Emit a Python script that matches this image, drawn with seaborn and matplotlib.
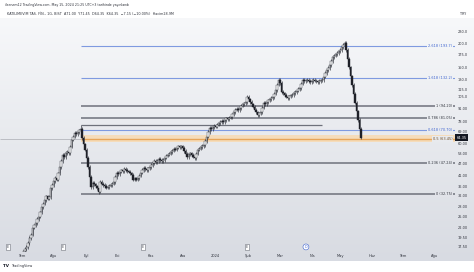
import numpy as np
import pandas as pd
import matplotlib
matplotlib.use("Agg")
import matplotlib.pyplot as plt
import matplotlib.transforms as mtransforms
import seaborn as sns

# ---------------- data ----------------
closes = [
    16.0, 16.4, 16.9, 17.3, 18.2, 19.3, 20.1, 21.8, 22.5, 23.1, 24.2,
    24.9, 26.3, 28.0, 29.1, 30.5, 31.8, 30.9, 31.6,
    35.2, 36.4, 38.1, 39.7, 38.8, 41.9,
    45.3, 48.6, 52.3, 51.0, 53.5, 54.2, 53.4, 57.8,
    62.7, 65.1, 68.2, 66.9, 68.5, 70.3, 71.5,
    64.2, 59.5, 55.6, 50.5, 45.3, 40.2, 35.6,
    37.4, 36.8, 35.9, 35.2, 33.6,
    37.8, 37.1, 36.5, 36.0, 35.3, 35.6, 36.2, 36.5, 37.1, 37.8, 40.1,
    42.2, 41.6, 42.7, 43.5, 42.9, 44.1, 43.7, 43.0, 42.7, 41.9, 41.2,
    38.8, 39.4, 38.9, 39.7, 40.8, 42.2, 43.6, 44.8, 44.1, 43.7, 44.6,
    45.3, 46.4, 47.5, 48.9, 48.1, 48.6, 49.8, 49.3, 48.7, 49.3, 50.6, 51.8, 52.4, 53.1,
    54.2, 55.0, 56.3, 55.8, 57.0, 57.9, 57.2, 58.1, 57.0, 54.8, 52.9,
    51.1, 52.6, 53.4, 52.3, 51.2, 50.5, 53.0, 55.6, 56.4, 57.5, 58.2,
    59.0, 61.8, 65.0, 68.9, 72.4, 71.3, 72.8, 74.1, 73.3, 75.2, 76.4,
    77.8, 78.5, 77.6, 79.7, 81.0, 80.2, 81.9, 82.6, 85.1, 87.4,
    89.9, 90.8, 89.7, 92.0, 94.6, 96.1, 97.3, 98.9, 105.0,
    101.8, 98.9, 96.0, 93.2, 90.1, 87.3, 84.6, 86.2, 87.7, 92.4,
    97.7, 96.5, 98.9, 100.6, 102.1, 103.4, 105.0, 109.3, 114.2, 121.5,
    128.8, 124.2, 111.5, 109.4, 107.6, 105.2, 103.8, 105.9, 106.8, 107.6,
    109.9, 111.5, 113.2, 115.6, 117.0, 123.1, 128.8, 126.4, 127.9, 128.8,
    127.2, 125.7, 127.0, 128.8, 127.5, 126.3, 125.7, 127.1, 128.2, 128.8,
    133.9, 140.1, 144.8, 148.8, 154.2, 161.5, 169.7, 172.4, 175.3, 178.0,
    181.2, 184.6, 190.3, 196.0, 200.5,
    184.56, 166.1, 149.49, 134.54, 121.09, 108.98, 98.08, 88.27, 79.45, 71.5, 64.35,
]
first_open = 15.8
special_highs = {39: 75.0, 150: 107.5, 171: 131.5, 215: 205.0}
special_lows = {51: 32.75}

fib_ratios = ["0", "0.236", "0.5", "0.618", "0.786", "1", "1.618", "2.618"]
fib_prices = [32.75, 47.24, 63.45, 70.70, 81.05, 94.20, 132.2, 193.7]
fib_kind = ["gray", "gray", "orange", "blue", "gray", "gray", "blue", "blue"]
fib_start_bar = 39
band_low, band_high = 61.2, 66.6
ray_price, ray_end_bar = 75.0, 200

price_ticks = [17.5, 19.5, 22, 25, 28, 32, 36, 41, 47, 53, 60, 69, 78, 91,
               105, 115, 130, 150, 175, 200, 230]
month_labels = ["Tem", "Ağu", "Eyl", "Eki", "Kas", "Ara", "2024", "Şub",
                "Mar", "Nis", "May", "Haz", "Tem", "Ağu"]
month_bars = [0, 20.7, 42.7, 63.3, 86, 107.3, 128.7, 150.7, 172, 193.3,
              212, 233.3, 254, 275.3]
event_bars = [-9.3, 27.3, 80.7, 150.0]
dividend_bar = 189.3

last_price = 64.35
header1 = "ilsenem12 TradingView.com, May 15, 2024 21:25 UTC+3 tarihinde yayınlandı"
header2 = ("KATILIMEVIM TAS. FİN., 1G, BIST  A71.00  Y71.45  D64.35  K64.35  "
           "−7.15 (−10.00%)  Hacim28.9M")

# ---------------- derived OHLC table ----------------
opens = [first_open] + closes[:-1]
df = pd.DataFrame({"open": opens, "close": closes})
df["bar"] = np.arange(len(df))
df["high"] = df[["open", "close"]].max(axis=1) * 1.02
df["low"] = df[["open", "close"]].min(axis=1) * 0.98
for k, v in special_highs.items():
    df.loc[k, "high"] = v
for k, v in special_lows.items():
    df.loc[k, "low"] = v

# ---------------- figure ----------------
sns.set_theme(style="white")
plt.rcParams["font.family"] = ["DejaVu Sans"]

W, H = 474, 272
fig = plt.figure(figsize=(W / 100, H / 100), dpi=100)
fig.patch.set_facecolor("white")

top_c = np.array([247, 248, 250]) / 255
bot_c = np.array([216, 219, 226]) / 255
bg_top, bg_bot = 18, 261


def grad(ypix):
    t = (ypix - bg_top) / (bg_bot - bg_top)
    t = min(max(t, 0), 1)
    return tuple(top_c * (1 - t) + bot_c * t)


bg = fig.add_axes([0, 1 - bg_bot / H, 1, (bg_bot - bg_top) / H])
g = np.linspace(0, 1, 256)[:, None, None]
img = top_c[None, None, :] * (1 - g) + bot_c[None, None, :] * g
bg.imshow(img, aspect="auto", extent=[0, 1, 0, 1], origin="upper")
bg.set_axis_off()
bg.set_zorder(0)

ax_top, ax_bot, ax_right = 22, 252, 455
ax = fig.add_axes([0, 1 - ax_bot / H, ax_right / W, (ax_bot - ax_top) / H])
ax.set_zorder(1)
ax.patch.set_alpha(0)
ax.set_yscale("log")
ax.set_ylim(16.3, 258)
px_per_bar = 1.5
x_left = -22 / px_per_bar
x_right = x_left + ax_right / px_per_bar
ax.set_xlim(x_left, x_right)

# orange band + fib lines
ax.fill_between([fib_start_bar, x_right], band_low, band_high,
                color="#f5dcbb", lw=0, zorder=1)
colors = {"gray": "#6e717b", "blue": "#7f9ae0", "orange": "#e7a55a"}
tcolors = {"gray": "#30333c", "blue": "#3d62cf", "orange": "#6b4a22"}
lws = {"gray": 1.1, "blue": 0.8, "orange": 1.0}
ax.hlines(63.45, x_left, fib_start_bar, color="#9a9ca5", lw=0.4, zorder=1)
ax.hlines(ray_price, fib_start_bar, ray_end_bar, color="#6e717b", lw=0.9, zorder=1)
blend = mtransforms.blended_transform_factory(ax.transAxes, ax.transData)
for r, p, k in zip(fib_ratios, fib_prices, fib_kind):
    ax.hlines(p, fib_start_bar, x_right, color=colors[k], lw=lws[k], zorder=2)
    ptxt = f"{p:.1f}" if p >= 100 else f"{p:.2f}"
    ypix = ax_top + (np.log(258) - np.log(p)) / (np.log(258) - np.log(16.3)) * (ax_bot - ax_top)
    ax.text(0.994, p, f"{r} ({ptxt})", transform=blend, ha="right", va="center",
            fontsize=2.5, color=tcolors[k], zorder=5,
            bbox=dict(boxstyle="square,pad=0.25", fc=grad(ypix), ec="none"))

# candles
up = df["close"] >= df["open"]
ax.vlines(df["bar"], df["low"], df["high"], color="#2a2d35", lw=0.45, zorder=3)
body_lo = df[["open", "close"]].min(axis=1)
body_h = (df["close"] - df["open"]).abs().clip(lower=0.004 * body_lo)
ax.bar(df["bar"][up], body_h[up], bottom=body_lo[up], width=0.8,
       color="white", edgecolor="#2a2d35", lw=0.3, zorder=4)
ax.bar(df["bar"][~up], body_h[~up], bottom=body_lo[~up], width=0.8,
       color="#1e2028", edgecolor="#1e2028", lw=0.3, zorder=4)

# event markers
ev_tr = mtransforms.blended_transform_factory(ax.transData, ax.transAxes)
for b in event_bars:
    ax.text(b, 0.022, "E", transform=ev_tr, ha="center", va="center",
            fontsize=2.3, color="#434651", zorder=6,
            bbox=dict(boxstyle="square,pad=0.35", fc="white", ec="#6e717b", lw=0.4))
ax.text(dividend_bar, 0.022, "D", transform=ev_tr, ha="center", va="center",
        fontsize=2.3, color="#3d62cf", zorder=6,
        bbox=dict(boxstyle="circle,pad=0.3", fc="white", ec="#3d62cf", lw=0.4))

# axes
for s in ax.spines.values():
    s.set_visible(False)
ax.yaxis.tick_right()
ax.yaxis.set_minor_locator(matplotlib.ticker.NullLocator())
ax.set_yticks(price_ticks)
ax.set_yticklabels([f"{t:.1f}" if t >= 100 else f"{t:.2f}" for t in price_ticks])
ax.tick_params(axis="y", length=0, pad=2.2, labelsize=2.5, labelcolor="#30333c")
ax.set_xticks(month_bars)
ax.set_xticklabels(month_labels)
ax.tick_params(axis="x", length=0, pad=1.2, labelsize=2.6, labelcolor="#30333c")
ax.grid(False)

ax.text(1.003, last_price, f"{last_price:.2f}", transform=blend, ha="left", va="center",
        fontsize=2.5, color="white", zorder=7, clip_on=False,
        bbox=dict(boxstyle="square,pad=0.45", fc="#131722", ec="none"))

# header and logo
fig.text(5 / W, 1 - 5 / H, header1, fontsize=2.3, color="#30333c", va="center", ha="left")
fig.text(7 / W, 1 - 14 / H, header2, fontsize=2.4, color="#30333c", va="center", ha="left")
fig.text(460 / W, 1 - 14 / H, "TRY", fontsize=2.4, color="#30333c", va="center", ha="left")
fig.text(3 / W, 1 - 266 / H, "TV", fontsize=3.0, color="#131722", weight="bold",
         va="center", ha="left")
fig.text(11 / W, 1 - 266 / H, "TradingView", fontsize=2.5, color="#30333c",
         va="center", ha="left")

fig.savefig("out.png", dpi=100)
